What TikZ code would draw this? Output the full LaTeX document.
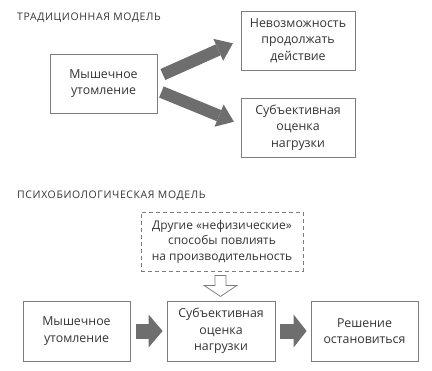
\documentclass[tikz,border=0pt]{standalone}
\usepackage{fontspec}
\setmainfont{Open Sans}
\newfontfamily\titlefont[LetterSpace=6]{Open Sans}
\usetikzlibrary{arrows.meta,calc}
\definecolor{txt}{HTML}{333333}
\definecolor{edge}{HTML}{7C7C7C}
\definecolor{arr}{HTML}{6E6E6E}
\begin{document}
\begin{tikzpicture}[x=1bp,y=-1bp,
  box/.style={draw=edge, line width=0.8bp, minimum width=#1, minimum height=59bp,
    inner sep=0pt, align=center, text=txt, font=\fontsize{12.4}{16.5}\selectfont},
  dbox/.style={box=#1, dash pattern=on 4bp off 3bp, font=\fontsize{12}{15.5}\selectfont},
  title/.style={anchor=base west, inner sep=0pt, text=txt, font=\titlefont\fontsize{10.5}{12}\selectfont},
  fatarrow/.style n args={3}{draw=arr, line width=#1,
    -{Triangle[length=#3, width=#2, line width=0pt, fill=arr]}},
  hollow/.style={draw=edge, line width=0.8bp, fill=white, line join=miter}]
\useasboundingbox (0,0) rectangle (432,371);
% traditional model
\node[title] (t1) at (17,20) {ТРАДИЦИОННАЯ МОДЕЛЬ};
\node[box=107bp] (A) at (103.5,83.5) {Мышечное\\утомление};
\node[box=114bp] (B) at (298,40.5) {Невозможность\\продолжать\\действие};
\node[box=114bp] (C) at (298,127.5) {Субъективная\\оценка\\нагрузки};
\draw[fatarrow={12bp}{24bp}{16bp}] ($(A.east)+(5.5,-9)$) -- ($(B.west)+(-7.7,2.8)$);
\draw[fatarrow={12bp}{24bp}{16bp}] ($(A.east)+(4,8.5)$) -- ($(C.west)+(-6.7,-5.8)$);
% psychobiological model
\node[title] (t2) at (17,198) {ПСИХОБИОЛОГИЧЕСКАЯ МОДЕЛЬ};
\node[dbox=162bp] (D) at (222,241.5) {Другие «нефизические»\\способы повлиять\\на производительность};
\node[box=107bp, minimum height=60bp] (E) at (76.5,331) {Мышечное\\утомление};
\node[box=108bp, minimum height=60bp] (F) at (221,331) {Субъективная\\оценка\\нагрузки};
\node[box=107bp, minimum height=60bp] (G) at (364.5,331) {Решение\\остановиться};
\draw[fatarrow={15bp}{33bp}{14bp}] ($(E.east)+(6,0)$) -- ($(F.west)+(-4,0)$);
\draw[fatarrow={15bp}{33bp}{13bp}] ($(F.east)+(5,0)$) -- ($(G.west)+(-4,0)$);
\draw[hollow] ($(D.south)+(-7,4)$) -- ($(D.south)+(4,4)$) -- ($(D.south)+(4,14)$)
  -- ($(D.south)+(15,14)$) -- ($(D.south)+(-1.5,25)$) -- ($(D.south)+(-18,14)$)
  -- ($(D.south)+(-7,14)$) -- cycle;
\end{tikzpicture}
\end{document}
